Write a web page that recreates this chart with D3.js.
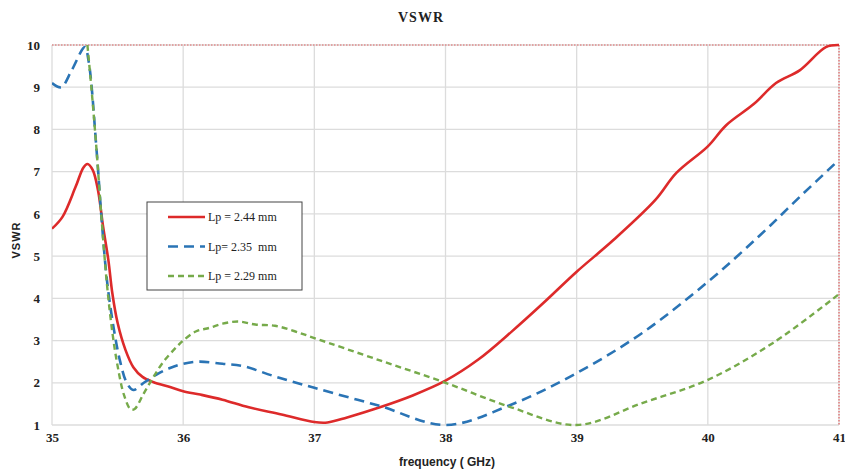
<!DOCTYPE html>
<html>
<head>
<meta charset="utf-8">
<script src="https://cdn.jsdelivr.net/npm/d3@7"></script>
<style>
  html, body { margin: 0; padding: 0; background: #fff; }
  svg { display: block; }
</style>
</head>
<body>
<svg id="chart" width="845" height="473"></svg>
<script>
// ---- data ----
const xTicks = [35, 36, 37, 38, 39, 40, 41];
const yTicks = [1, 2, 3, 4, 5, 6, 7, 8, 9, 10];
const seriesNames = ["Lp = 2.44 mm", "Lp= 2.35  mm", "Lp = 2.29 mm"];

const freq244 = [35.0, 35.08, 35.18, 35.24, 35.27, 35.31, 35.35, 35.39, 35.43, 35.46, 35.5, 35.56, 35.62, 35.69, 35.77, 35.9, 36.0, 36.13, 36.3, 36.5, 36.75, 37.0, 37.1, 37.25, 37.5, 37.75, 38.0, 38.25, 38.5, 38.75, 39.0, 39.28, 39.6, 39.76, 40.0, 40.14, 40.35, 40.52, 40.7, 40.9, 41.0];
const vswr244 = [5.65, 5.93, 6.64, 7.1, 7.18, 7.04, 6.57, 5.69, 4.9, 4.12, 3.42, 2.78, 2.37, 2.14, 2.02, 1.9, 1.8, 1.72, 1.6, 1.42, 1.25, 1.07, 1.06, 1.18, 1.42, 1.7, 2.05, 2.55, 3.2, 3.9, 4.63, 5.38, 6.33, 6.97, 7.6, 8.1, 8.6, 9.1, 9.4, 9.95, 10.0];

const freq235 = [35.0, 35.07, 35.15, 35.25, 35.28, 35.34, 35.38, 35.42, 35.47, 35.52, 35.57, 35.62, 35.7, 35.8, 35.9, 36.0, 36.12, 36.3, 36.45, 36.7, 37.0, 37.5, 38.0, 38.5, 39.0, 39.5, 40.0, 40.4, 40.7, 41.0];
const vswr235 = [9.1, 9.0, 9.4, 9.95, 9.6, 7.5, 5.8, 4.4, 3.3, 2.5, 2.0, 1.83, 2.0, 2.2, 2.35, 2.45, 2.5, 2.45, 2.4, 2.15, 1.88, 1.45, 1.0, 1.48, 2.23, 3.18, 4.39, 5.5, 6.4, 7.28];

const freq229 = [35.27, 35.3, 35.34, 35.38, 35.42, 35.46, 35.5, 35.55, 35.6, 35.63, 35.7, 35.77, 35.85, 35.95, 36.0, 36.1, 36.2, 36.3, 36.42, 36.55, 36.7, 36.85, 37.0, 37.5, 38.0, 38.5, 39.0, 39.5, 40.0, 40.5, 41.0];
const vswr229 = [10.0, 9.0, 7.5, 5.8, 4.3, 3.2, 2.4, 1.7, 1.37, 1.38, 1.75, 2.12, 2.5, 2.85, 3.0, 3.22, 3.3, 3.4, 3.45, 3.38, 3.35, 3.22, 3.06, 2.53, 2.0, 1.42, 1.0, 1.52, 2.07, 2.95, 4.1];

// ---- layout ----
const svg = d3.select("#chart");
const L = 52, R = 839, T = 45, B = 425;
const x = d3.scaleLinear().domain([35, 41]).range([L, R]);
const y = d3.scaleLinear().domain([1, 10]).range([B, T]);

// grid
const grid = svg.append("g");
grid.selectAll("line.h").data(yTicks).enter().append("line")
  .attr("x1", L).attr("x2", R).attr("y1", d => y(d)).attr("y2", d => y(d))
  .attr("stroke", "#dcdcdc").attr("stroke-width", 1.3);
grid.selectAll("line.v").data(xTicks).enter().append("line")
  .attr("y1", T).attr("y2", B).attr("x1", d => x(d)).attr("x2", d => x(d))
  .attr("stroke", "#dcdcdc").attr("stroke-width", 1.3);

// red dotted top & right border
svg.append("line").attr("x1", L).attr("x2", R).attr("y1", y(10)).attr("y2", y(10))
  .attr("stroke", "#e06060").attr("stroke-width", 1.2).attr("stroke-dasharray", "1.5,1.5");
svg.append("line").attr("x1", x(41)).attr("x2", x(41)).attr("y1", T).attr("y2", B)
  .attr("stroke", "#e06060").attr("stroke-width", 1.2).attr("stroke-dasharray", "1.5,1.5");

// axes via d3 (no domain lines / tick marks)
const xAxis = svg.append("g").attr("transform", `translate(0,${B})`)
  .call(d3.axisBottom(x).tickValues(xTicks).tickSize(0).tickPadding(8).tickFormat(d3.format("d")));
const yAxis = svg.append("g").attr("transform", `translate(${L},0)`)
  .call(d3.axisLeft(y).tickValues(yTicks).tickSize(0).tickPadding(12).tickFormat(d3.format("d")));
[xAxis, yAxis].forEach(a => {
  a.select(".domain").remove();
  a.selectAll("text").attr("font-family", "'Liberation Serif', 'Times New Roman', serif")
    .attr("font-weight", "bold").attr("font-size", 13).attr("fill", "#222");
});

// clip
svg.append("clipPath").attr("id", "clip").append("rect")
  .attr("x", L).attr("y", T - 2).attr("width", R - L + 2).attr("height", B - T + 4);

const line = d3.line().x(d => x(d[0])).y(d => y(d[1])).curve(d3.curveCatmullRom.alpha(0.5));
const series = [
  { f: freq244, v: vswr244, color: "#dd2a2a", width: 2.6, dash: null },
  { f: freq235, v: vswr235, color: "#2a74b5", width: 2.6, dash: "10,6" },
  { f: freq229, v: vswr229, color: "#76aa4a", width: 2.4, dash: "6,4" }
];
const plot = svg.append("g").attr("clip-path", "url(#clip)");
series.forEach(s => {
  const pts = s.f.map((f, i) => [f, s.v[i]]);
  plot.append("path").datum(pts).attr("d", line)
    .attr("fill", "none").attr("stroke", s.color).attr("stroke-width", s.width)
    .attr("stroke-dasharray", s.dash).attr("stroke-linejoin", "round");
});

// legend
const lg = svg.append("g");
lg.append("rect").attr("x", 147).attr("y", 202).attr("width", 155).attr("height", 88)
  .attr("fill", "#fff").attr("stroke", "#444").attr("stroke-width", 1);
series.forEach((s, i) => {
  const ly = 217 + i * 29.5;
  lg.append("line").attr("x1", 168).attr("x2", 205).attr("y1", ly).attr("y2", ly)
    .attr("stroke", s.color).attr("stroke-width", s.width).attr("stroke-dasharray", s.dash);
  lg.append("text").attr("x", 208).attr("y", ly + 4).text(seriesNames[i])
    .attr("font-family", "'Liberation Serif', 'Times New Roman', serif")
    .attr("font-size", 12).attr("fill", "#222").attr("xml:space", "preserve")
    .style("white-space", "pre");
});

// titles
svg.append("text").attr("x", 421).attr("y", 22).attr("text-anchor", "middle")
  .attr("font-family", "'Liberation Serif', 'Times New Roman', serif").attr("font-weight", "bold")
  .attr("font-size", 14).attr("letter-spacing", 1).attr("fill", "#222").text("VSWR");
svg.append("text").attr("transform", `translate(20,240) rotate(-90)`).attr("text-anchor", "middle")
  .attr("font-family", "'Liberation Sans', Arial, sans-serif").attr("font-weight", "bold")
  .attr("font-size", 11).attr("letter-spacing", 1).attr("fill", "#222").text("VSWR");
svg.append("text").attr("x", 447).attr("y", 466).attr("text-anchor", "middle")
  .attr("font-family", "'Liberation Sans', Arial, sans-serif").attr("font-weight", "bold")
  .attr("font-size", 12).attr("fill", "#222").text("frequency ( GHz)");
</script>
</body>
</html>
